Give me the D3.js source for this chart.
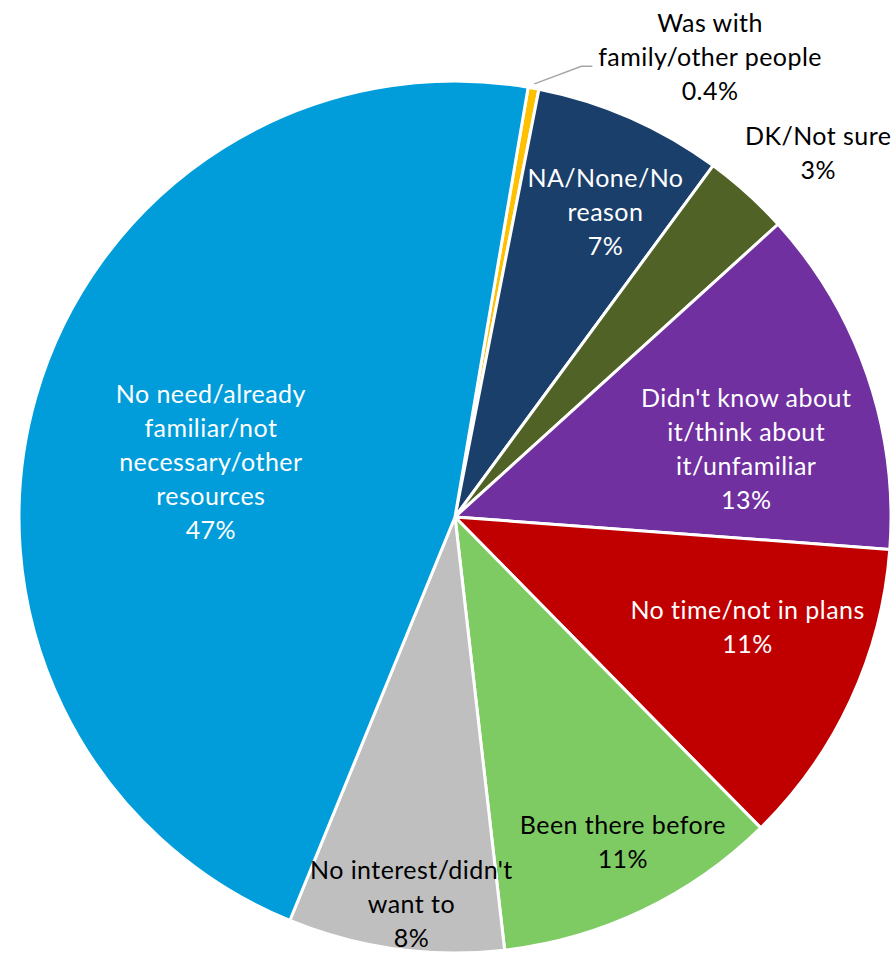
<!DOCTYPE html>
<html>
<head>
<meta charset="utf-8">
<script src="https://cdn.jsdelivr.net/npm/d3@7"></script>
<style>
  html, body { margin: 0; padding: 0; background: #fff; }
  svg { display: block; }
</style>
</head>
<body>
<div id="chart"></div>
<script>
// Reasons, in clockwise order from the top of the pie
const categories = [
  "Was with family/other people",
  "NA/None/No reason",
  "DK/Not sure",
  "Didn't know about it/think about it/unfamiliar",
  "No time/not in plans",
  "Been there before",
  "No interest/didn't want to",
  "No need/already familiar/not necessary/other resources"
];
const shares = [0.4, 7.0, 3.2, 12.9, 11.45, 10.55, 8.0, 46.5];
const labelLines = [
  ["Was with", "family/other people"],
  ["NA/None/No", "reason"],
  ["DK/Not sure"],
  ["Didn't know about", "it/think about", "it/unfamiliar"],
  ["No time/not in plans"],
  ["Been there before"],
  ["No interest/didn't", "want to"],
  ["No need/already", "familiar/not", "necessary/other", "resources"]
];
const colors = ["#FFC000", "#1A3F6B", "#506226", "#7030A0", "#C00000", "#7ECB64", "#BFBFBF", "#009DDA"];
const textColors = ["#000", "#fff", "#000", "#fff", "#fff", "#000", "#000", "#fff"];

// Label block centres, relative to the pie centre in radius units
const labelAt = [
  [0.585, -1.055],
  [0.345, -0.70],
  [0.833, -0.835],
  [0.668, -0.155],
  [0.671, 0.253],
  [0.385, 0.745],
  [-0.10, 0.888],
  [-0.560, -0.126]
];
// Leader line for the tiny slice (outer point, elbow, end), radius units
const leader = [[1.01, -0.975], [0.290, -1.034], [0.315, -1.034]];

const W = 896, H = 953;
const cx = 455, cy = 517, R = 436;
const lineH = 34;

const svg = d3.select("#chart").append("svg")
  .attr("width", W).attr("height", H)
  .attr("viewBox", `0 0 ${W} ${H}`)
  .style("font-family", "Lato, 'Open Sans', sans-serif");

svg.append("rect").attr("width", W).attr("height", H).attr("fill", "#fff");

const g = svg.append("g").attr("transform", `translate(${cx},${cy})`);

const startDeg = 9.66;
const pie = d3.pie().sort(null).value(d => d)
  .startAngle(startDeg * Math.PI / 180)
  .endAngle((startDeg + 360) * Math.PI / 180);
const arcs = pie(shares);
const arc = d3.arc().innerRadius(0).outerRadius(R);

g.selectAll("path.slice").data(arcs).join("path")
  .attr("class", "slice")
  .attr("d", arc)
  .attr("fill", (d, i) => colors[i])
  .attr("stroke", "#fff")
  .attr("stroke-width", 3)
  .attr("stroke-linejoin", "round");

// Leader line from the thin slice to its outside label
{
  const a = (arcs[0].startAngle + arcs[0].endAngle) / 2;
  const p0 = [Math.sin(a) * R * leader[0][0], -Math.cos(a) * R * leader[0][0]];
  const p1 = [leader[1][0] * R, leader[1][1] * R];
  const p2 = [leader[2][0] * R, leader[2][1] * R];
  g.append("polyline")
    .attr("points", [p0, p1, p2].map(p => p.join(",")).join(" "))
    .attr("fill", "none")
    .attr("stroke", "#A6A6A6")
    .attr("stroke-width", 1.5);
}

const fmt = v => v < 1 ? d3.format(".1f")(v) + "%" : Math.round(v) + "%";

const labels = g.selectAll("text.lbl").data(arcs).join("text")
  .attr("class", "lbl")
  .attr("text-anchor", "middle")
  .attr("font-size", 25)
  .attr("letter-spacing", 0.45)
  .attr("fill", (d, i) => textColors[i]);

labels.each(function (d, i) {
  const lines = labelLines[i].concat([fmt(d.data)]);
  const x = labelAt[i][0] * R;
  const y0 = labelAt[i][1] * R - (lines.length - 1) * lineH / 2;
  d3.select(this).selectAll("tspan").data(lines).join("tspan")
    .attr("x", x)
    .attr("y", (t, k) => y0 + k * lineH)
    .attr("dy", "0.35em")
    .text(t => t);
});
</script>
</body>
</html>
